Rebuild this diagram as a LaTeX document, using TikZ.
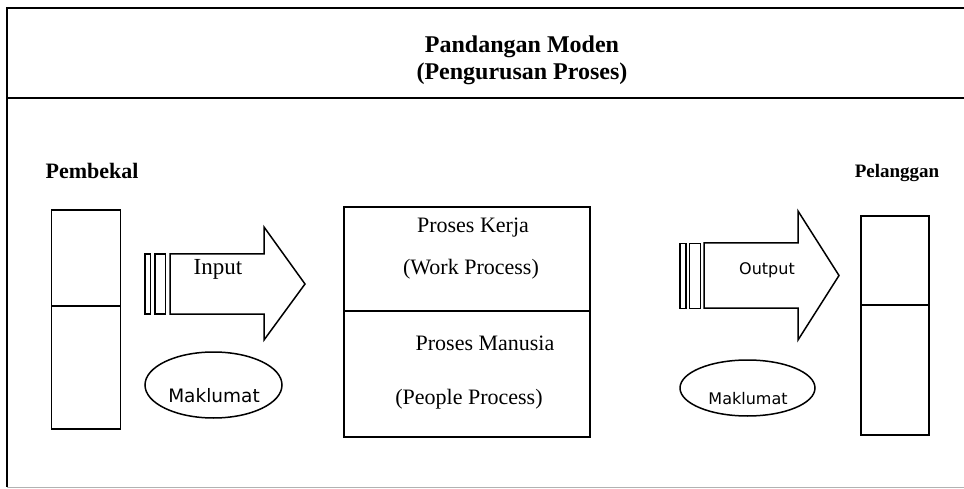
\documentclass[tikz,border=0pt]{standalone}
\usepackage{fontspec}
\usetikzlibrary{shapes.geometric}
\setmainfont{Liberation Serif}
\newfontfamily\dvsans{DejaVu Sans}
\begin{document}
\begin{tikzpicture}[x=1pt,y=-1pt,
  frameline/.style={line width=1.8pt},
  boxline/.style={draw,line width=1.7pt},
  thinline/.style={draw,line width=1.3pt},
  arrowline/.style={line width=1.5pt,line join=miter},
  lbl/.style={anchor=base,inner sep=0pt},
  headfont/.style={font=\bfseries\fontsize{24}{28}\selectfont},
  boxfont/.style={font=\fontsize{22}{26}\selectfont},
  sansfont/.style={font=\dvsans\fontsize{16}{19}\selectfont}]
\useasboundingbox (0,0) rectangle (964,489);
% frame
\coordinate (ftl) at (7,8);
\coordinate (ftr) at (964,8);
\coordinate (fml) at (7,98);
\coordinate (fmr) at (964,98);
\coordinate (fbl) at (7,487);
\coordinate (fbr) at (964,487);
\draw[frameline] (ftr) -- (ftl) -- (fbl);
\draw[frameline] (fml) -- (fmr);
\draw[line width=1pt,gray!60] (fbl) -- (fbr);
% title
\node[lbl,headfont] (t1) at (522,53) {Pandangan Moden};
\node[lbl,headfont] (t2) at (522,80) {(Pengurusan Proses)};
% left side
\node[lbl,font=\bfseries\fontsize{22}{26}\selectfont] (pembekal) at (92,179) {Pembekal};
\node[boxline,minimum width=69pt,minimum height=96pt,inner sep=0pt] (sup1) at (86,258) {};
\node[boxline,minimum width=69pt,minimum height=123pt,inner sep=0pt] (sup2) at (86,367.5) {};
\node[thinline,minimum width=5.5pt,minimum height=60pt,inner sep=0pt] (ib1) at (147.8,284) {};
\node[thinline,minimum width=10.5pt,minimum height=60pt,inner sep=0pt] (ib2) at (160.3,284) {};
\coordinate (ia1) at (170,254);
\coordinate (ia2) at (264,254);
\coordinate (ia3) at (264,227);
\coordinate (ia4) at (305,284);
\coordinate (ia5) at (264,340);
\coordinate (ia6) at (264,314);
\coordinate (ia7) at (170,314);
\draw[arrowline] (ia1) -- (ia2) -- (ia3) -- (ia4) -- (ia5) -- (ia6) -- (ia7) -- cycle;
\node[lbl,font=\fontsize{23}{27}\selectfont] (input) at (218,274) {Input};
\node[draw,line width=1.5pt,ellipse,minimum width=137pt,minimum height=66pt,inner sep=0pt] (mk1) at (213.5,385) {};
\node[lbl,font=\dvsans\fontsize{18.5}{22}\selectfont] (mk1t) at (214,402) {Maklumat};
% center
\node[boxline,minimum width=246pt,minimum height=104pt,inner sep=0pt] (work) at (467,259) {};
\node[boxline,minimum width=246pt,minimum height=126pt,inner sep=0pt] (people) at (467,374) {};
\node[lbl,boxfont] (pk) at (473,233) {Proses Kerja};
\node[lbl,boxfont] (wp) at (471,274) {(Work Process)};
\node[lbl,boxfont] (pm) at (485,350) {Proses Manusia};
\node[lbl,boxfont] (pp) at (469,404) {(People Process)};
% right side
\node[thinline,minimum width=6pt,minimum height=65pt,inner sep=0pt] (ob1) at (683,276) {};
\node[thinline,minimum width=11.5pt,minimum height=65pt,inner sep=0pt] (ob2) at (695,276) {};
\coordinate (oa1) at (704,243);
\coordinate (oa2) at (798,243);
\coordinate (oa3) at (798,211);
\coordinate (oa4) at (839,275.5);
\coordinate (oa5) at (798,340);
\coordinate (oa6) at (798,308);
\coordinate (oa7) at (704,308);
\draw[arrowline] (oa1) -- (oa2) -- (oa3) -- (oa4) -- (oa5) -- (oa6) -- (oa7) -- cycle;
\node[lbl,sansfont] (output) at (767,275) {Output};
\node[draw,line width=1.5pt,ellipse,minimum width=135pt,minimum height=56pt,inner sep=0pt] (mk2) at (747.5,388) {};
\node[lbl,sansfont] (mk2t) at (748,404) {Maklumat};
\node[lbl,font=\bfseries\fontsize{19}{23}\selectfont] (pelanggan) at (897,178) {Pelanggan};
\node[boxline,minimum width=68pt,minimum height=89pt,inner sep=0pt] (cu1) at (895,260.5) {};
\node[boxline,minimum width=68pt,minimum height=130pt,inner sep=0pt] (cu2) at (895,370) {};
\end{tikzpicture}
\end{document}
